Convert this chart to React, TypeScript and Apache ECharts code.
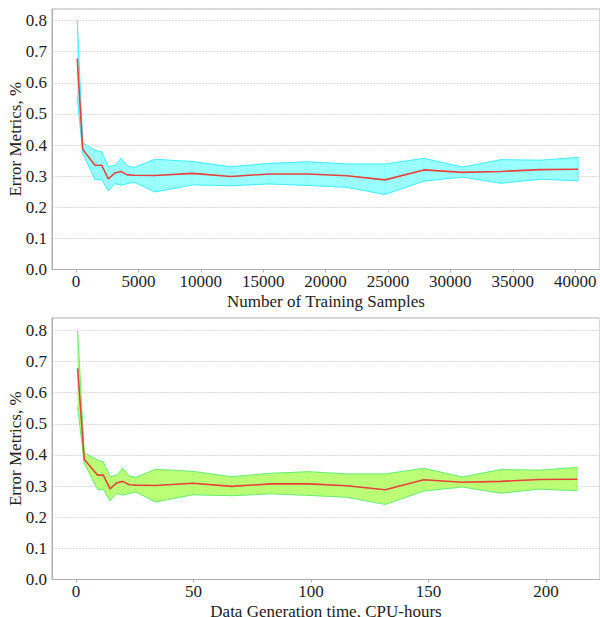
import React, { useEffect, useRef } from "react";
import * as echarts from "echarts";

const samplesX = [100, 540, 1520, 2060, 2590, 3120, 3610, 4110, 4650, 6330, 9330, 12400, 15490, 18590, 21690, 24760, 27880, 30990, 34060, 37180, 40250];
const hoursX = [0.7, 3.5, 9.2, 11.6, 14.5, 17.3, 19.9, 22.7, 25.5, 33.8, 49.8, 66.3, 82.9, 99.1, 115.2, 131.6, 148.0, 164.3, 180.7, 197.1, 213.3];
const meanErr = [0.678, 0.386, 0.335, 0.335, 0.291, 0.310, 0.315, 0.304, 0.303, 0.302, 0.309, 0.299, 0.307, 0.307, 0.301, 0.288, 0.320, 0.312, 0.315, 0.321, 0.322];
const upperErr = [0.799, 0.407, 0.383, 0.378, 0.330, 0.335, 0.357, 0.332, 0.328, 0.354, 0.347, 0.330, 0.341, 0.346, 0.339, 0.339, 0.357, 0.329, 0.353, 0.351, 0.360];
const lowerErr = [0.555, 0.373, 0.289, 0.289, 0.253, 0.276, 0.271, 0.276, 0.281, 0.249, 0.272, 0.269, 0.275, 0.270, 0.264, 0.241, 0.284, 0.297, 0.277, 0.290, 0.285];

const samplesTicks = [0, 5000, 10000, 15000, 20000, 25000, 30000, 35000, 40000];
const hoursTicks = [0, 50, 100, 150, 200];
const yTicks = [0, 0.1, 0.2, 0.3, 0.4, 0.5, 0.6, 0.7, 0.8];

const FONT = "Liberation Serif";

export default function App() {
  const ref = useRef<HTMLDivElement>(null);
  useEffect(() => {
    if (!ref.current) return;
    const chart = echarts.init(ref.current, undefined, { renderer: "svg" });

    const pairs = (xs: number[], ys: number[]) => xs.map((x, i) => [x, ys[i]]);

    const labelStyle = { fontFamily: FONT, fontSize: 17, color: "#222", fontWeight: "normal" };

    const xAxisBase = (idx: number, min: number, max: number, ticks: number[], name: string) => ({
      type: "value",
      gridIndex: idx,
      min,
      max,
      name,
      nameLocation: "middle",
      nameGap: 23,
      nameMoveOverlap: false,
      nameTextStyle: { ...labelStyle },
      axisLine: { show: true, onZero: false, lineStyle: { color: "#b0b0b0", width: 1 } },
      axisTick: { show: true, length: 3, customValues: ticks, lineStyle: { color: "#b0b0b0" } },
      axisLabel: {
        show: true,
        customValues: ticks,
        ...labelStyle,
        margin: 3,
        hideOverlap: false,
        formatter: (v: number) => String(v),
      },
      splitLine: { show: false },
    });

    const yAxisBase = (idx: number, max: number) => ({
      type: "value",
      gridIndex: idx,
      min: 0,
      max,
      interval: 0.1,
      name: "Error Metrics, %",
      nameLocation: "middle",
      nameGap: 28,
      nameMoveOverlap: false,
      nameTextStyle: { ...labelStyle },
      axisLine: { show: true, onZero: false, lineStyle: { color: "#b0b0b0", width: 1 } },
      axisTick: { show: false },
      axisLabel: {
        show: true,
        ...labelStyle,
        margin: 5,
        formatter: (v: number) => (yTicks.some((t) => Math.abs(t - v) < 1e-6) ? v.toFixed(1) : ""),
      },
      splitLine: { show: true, lineStyle: { color: "#dcdcdc", type: [2, 1], width: 1 } },
    });

    const bandSeries = (idx: number, xs: number[], fill: string, edge: string, seam: string) => [
      {
        type: "custom",
        xAxisIndex: idx,
        yAxisIndex: idx,
        data: xs.slice(0, -1).map((x, i) => [x, lowerErr[i], upperErr[i], xs[i + 1], lowerErr[i + 1], upperErr[i + 1]]),
        renderItem: (params: any, api: any) => {
          const a = api.coord([api.value(0), api.value(1)]);
          const b = api.coord([api.value(0), api.value(2)]);
          const c = api.coord([api.value(3), api.value(5)]);
          const d = api.coord([api.value(3), api.value(4)]);
          return {
            type: "group",
            children: [
              {
                type: "polygon",
                shape: { points: [a, b, c, d] },
                style: { fill, stroke: fill, lineWidth: 0.5 },
              },
              {
                type: "line",
                shape: { x1: d[0], y1: d[1], x2: c[0], y2: c[1] },
                style: { stroke: seam, lineWidth: 1 },
              },
            ],
          };
        },
        z: 2,
        silent: true,
      },
      {
        type: "line",
        xAxisIndex: idx,
        yAxisIndex: idx,
        data: pairs(xs, lowerErr),
        symbol: "none",
        lineStyle: { color: edge, width: 1 },
        z: 3,
      },
      {
        type: "line",
        xAxisIndex: idx,
        yAxisIndex: idx,
        data: pairs(xs, upperErr),
        symbol: "none",
        lineStyle: { color: edge, width: 1 },
        z: 3,
      },
      {
        type: "line",
        xAxisIndex: idx,
        yAxisIndex: idx,
        data: pairs(xs, meanErr),
        symbol: "none",
        lineStyle: { color: "#e8403a", width: 1.6 },
        z: 4,
      },
    ];

    const gridBase = {
      left: 52,
      width: 548,
      show: true,
      borderColor: "#b0b0b0",
      borderWidth: 1,
      backgroundColor: "transparent",
      containLabel: false,
      outerBoundsMode: "none",
    };

    chart.setOption({
      animation: false,
      backgroundColor: "#ffffff",
      textStyle: { fontFamily: FONT, fontSize: 17, color: "#222" },
      grid: [
        { ...gridBase, top: 9, height: 260.5 },
        { ...gridBase, top: 318, height: 261.5 },
      ],
      xAxis: [
        xAxisBase(0, -1923, 41990, samplesTicks, "Number of Training Samples"),
        xAxisBase(1, -10.21, 222.98, hoursTicks, "Data Generation time, CPU-hours"),
      ],
      yAxis: [yAxisBase(0, 0.837), yAxisBase(1, 0.8395)],
      series: [
        ...bandSeries(0, samplesX, "#99ffff", "#40eeff", "rgba(0,225,255,0.3)"),
        ...bandSeries(1, hoursX, "#bbff77", "#66ee77", "rgba(60,230,90,0.3)"),
      ],
    });

    return () => chart.dispose();
  }, []);

  return (
    <div
      ref={ref}
      style={{ position: "fixed", left: 0, top: 0, width: 600, height: 617, background: "#fff" }}
    />
  );
}
